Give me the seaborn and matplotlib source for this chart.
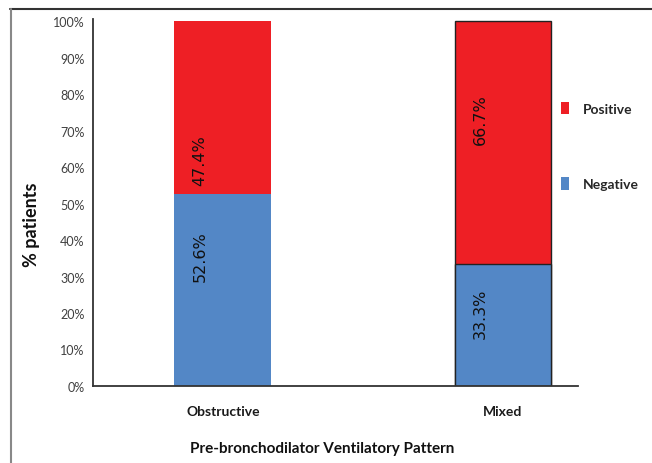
import numpy as np
import pandas as pd
import matplotlib
matplotlib.use("Agg")
import matplotlib.pyplot as plt
from matplotlib.patches import Patch
from matplotlib.lines import Line2D
import seaborn as sns

categories = ["Obstructive", "Mixed"]
negative = [52.6, 33.3]
positive = [47.4, 66.7]
series_names = ["Positive", "Negative"]
ytick_values = [0, 10, 20, 30, 40, 50, 60, 70, 80, 90, 100]
ytick_labels = [f"{v}%" for v in ytick_values]

RED = "#EE1F25"
BLUE = "#5387C6"

sns.set_theme(style="white")
plt.rcParams["font.family"] = ["Lato", "DejaVu Sans"]

df = pd.DataFrame({"pattern": categories,
                   "negative": negative,
                   "positive": positive})
df["total"] = df["negative"] + df["positive"]

fig = plt.figure(figsize=(6.52, 4.64), dpi=100)
ax = fig.add_axes([0.1426, 0.166, 0.744, 0.791])

sns.barplot(data=df, x="pattern", y="total", color=RED, width=0.346,
            saturation=1, ax=ax)
sns.barplot(data=df, x="pattern", y="negative", color=BLUE, width=0.346,
            saturation=1, ax=ax)

# Mixed bar has dark outline
n = len(categories)
for i, p in enumerate(ax.patches):
    if i % n == 1:
        p.set_edgecolor("#222222")
        p.set_linewidth(1.0)
    else:
        p.set_linewidth(0)

ax.set_xlim(-0.464, 1.268)
ax.set_ylim(0, 100.6)
ax.set_yticks(ytick_values)
ax.set_yticklabels(ytick_labels, fontsize=9, color="#404040")
ax.tick_params(axis="y", length=0, pad=6)
ax.tick_params(axis="x", length=0, pad=14)
for lab in ax.get_xticklabels():
    lab.set_fontweight("bold")
    lab.set_fontsize(10)
    lab.set_color("#1a1a1a")

ax.set_xlabel("")
ax.set_ylabel("")
for s in ["top", "right"]:
    ax.spines[s].set_visible(False)
for s in ["left", "bottom"]:
    ax.spines[s].set_color("#333333")
    ax.spines[s].set_linewidth(1.3)

# in-bar labels (rotated)
neg_frac = [0.68, 0.60]
pos_frac = [0.20, 0.60]
for i in range(n):
    ax.text(i - 0.082, negative[i] * neg_frac[i], f"{negative[i]}%",
            rotation=90, ha="center", va="center", fontsize=11.5,
            family="DejaVu Sans", color="#111111")
    ax.text(i - 0.082, negative[i] + positive[i] * pos_frac[i], f"{positive[i]}%",
            rotation=90, ha="center", va="center", fontsize=11.5,
            family="DejaVu Sans", color="#111111")

handles = [Patch(facecolor=RED, edgecolor="none"),
           Patch(facecolor=BLUE, edgecolor="none")]
leg = fig.legend(handles, series_names, loc="upper left",
                 bbox_to_anchor=(0.842, 0.805), frameon=False,
                 handlelength=0.55, handleheight=1.0, handletextpad=1.0,
                 labelspacing=4.5, prop={"weight": "bold", "size": 10})

fig.text(0.049, 0.515, "% patients", rotation=90, ha="center", va="center",
         fontsize=13, fontweight="bold", color="#111111")
fig.text(0.494, 0.032, "Pre-bronchodilator Ventilatory Pattern", ha="center",
         va="center", fontsize=11, fontweight="bold", color="#111111")

# outer frame (top and left edges of the screenshot border)
fig.add_artist(Line2D([0.016, 1.0], [0.978, 0.978], transform=fig.transFigure,
                      color="#333333", lw=1.5))
fig.add_artist(Line2D([0.017, 0.017], [0.0, 0.978], transform=fig.transFigure,
                      color="#888888", lw=1.5))

fig.savefig("out.png", dpi=100)
